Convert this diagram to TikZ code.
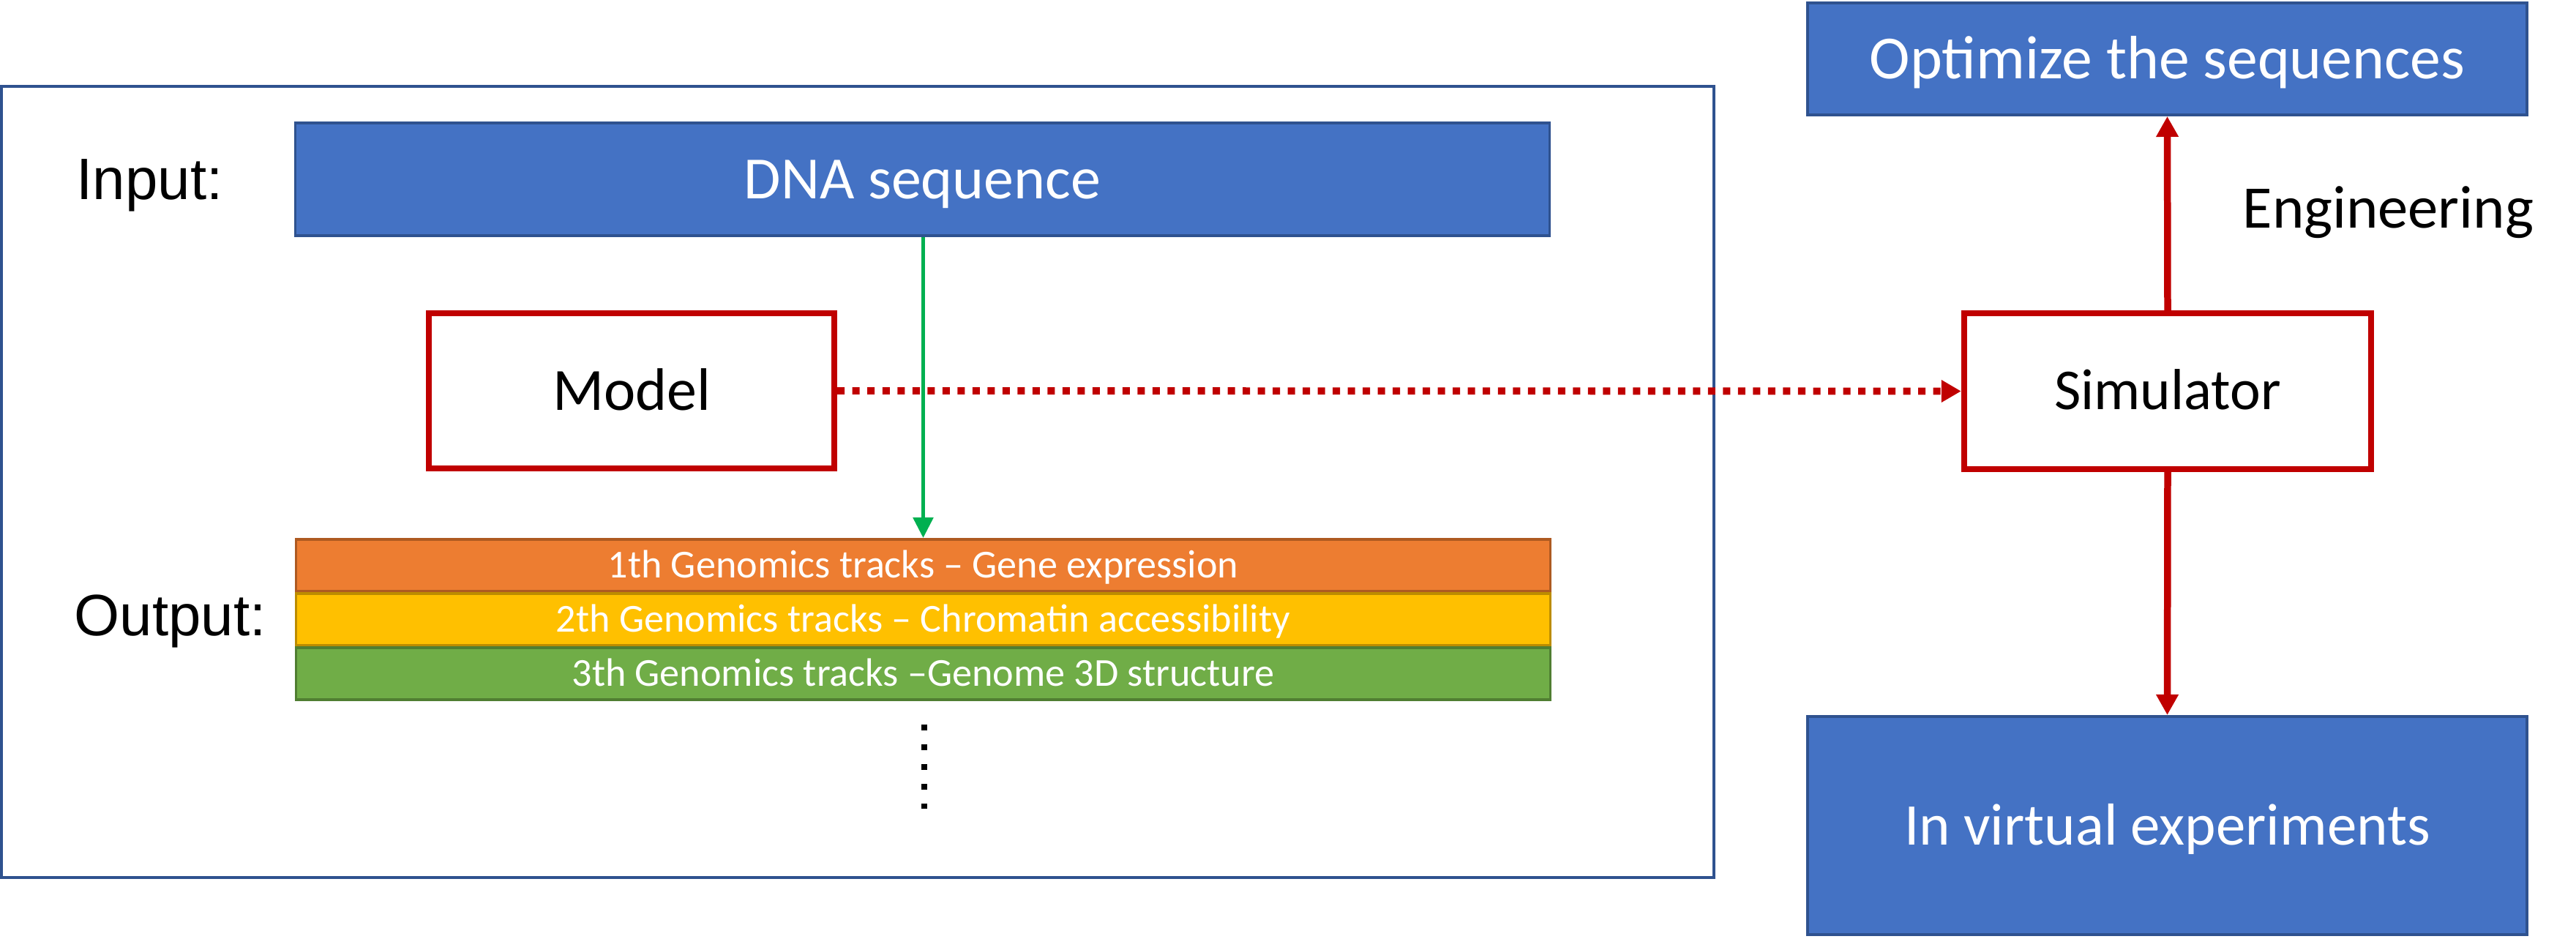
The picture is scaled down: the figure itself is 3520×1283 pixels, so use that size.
\documentclass[tikz,border=0pt]{standalone}
\usepackage{fontspec}
\setmainfont{Carlito}
\newfontfamily\arialfont{Liberation Sans}
\usetikzlibrary{arrows.meta}
\definecolor{obl}{HTML}{4472C4}
\definecolor{oblb}{HTML}{2F528F}
\definecolor{oor}{HTML}{ED7D31}
\definecolor{oorb}{HTML}{AE5A21}
\definecolor{oye}{HTML}{FFC000}
\definecolor{oyeb}{HTML}{BC8C00}
\definecolor{ogr}{HTML}{70AD47}
\definecolor{ogrb}{HTML}{507E32}
\definecolor{ored}{HTML}{C00000}
\definecolor{ogreen}{HTML}{00B050}
\tikzset{
  capc/.style={text height=#1, text depth=0pt},
  bluebox/.style={fill=obl, draw=oblb, line width=1.1pt, text=white, inner sep=0pt},
  redbox/.style={fill=white, draw=ored, line width=2.3pt, inner sep=0pt},
  track/.style={line width=1.1pt, text=white, inner sep=0pt, minimum width=17.13cm, minimum height=0.71cm, font=\fontsize{15.4}{18}\selectfont, capc=9.9pt},
  redarrow/.style={draw=ored, line width=2.7pt, -{Triangle[length=0.28cm,width=0.29cm]}},
  lbl/.style={inner sep=0pt, anchor=base west, font=\arialfont\fontsize{22.7}{27}\selectfont}
}
\begin{document}
\begin{tikzpicture}[x=0.01cm,y=-0.01cm]
\useasboundingbox (0,0) rectangle (3520,1283);
% outer frame
\node[draw=oblb, line width=1.1pt, minimum width=23.38cm, minimum height=10.81cm, inner sep=0pt] (frame) at (1172,658.5) {};
% input
\node[bluebox, minimum width=17.13cm, minimum height=1.54cm, font=\fontsize{23.3}{28}\selectfont, capc=15pt] (dna) at (1260.5,245) {DNA sequence};
\node[lbl] (input) at (104,273) {Input:};
% model
\node[redbox, minimum width=5.54cm, minimum height=2.12cm, font=\fontsize{23.3}{28}\selectfont, capc=15pt] (model) at (863,534) {Model};
% tracks
\node[track, fill=oor, draw=oorb] (t1) at (1261.5,772.5) {1th Genomics tracks – Gene expression};
\node[track, fill=oye, draw=oyeb] (t2) at (1261.5,846.5) {2th Genomics tracks – Chromatin accessibility};
\node[track, fill=ogr, draw=ogrb] (t3) at (1261.5,920.5) {3th Genomics tracks –Genome 3D structure};
\node[lbl] (output) at (101,869) {Output:};
\coordinate (dtop) at (1263,990);
\coordinate (dbot) at (1263,1105);
\draw[line width=2.4pt, dash pattern=on 0.08cm off 0.19cm] (dtop) -- (dbot);
% green arrow
\draw[draw=ogreen, line width=1.6pt, -{Triangle[length=0.28cm,width=0.27cm]}] (dna.south -| t1.north) -- (t1.north);
% simulator side
\node[redbox, minimum width=5.56cm, minimum height=2.13cm, font=\fontsize{22.5}{27}\selectfont, capc=14.5pt] (sim) at (2962,534.5) {Simulator};
\node[bluebox, minimum width=9.83cm, minimum height=1.53cm, font=\fontsize{23.8}{28}\selectfont, capc=15.3pt] (opt) at (2961.5,80.5) {Optimize the sequences};
\node[bluebox, minimum width=9.83cm, minimum height=2.98cm, font=\fontsize{23}{28}\selectfont, capc=14.8pt] (virt) at (2961.5,1128) {In virtual experiments};
\node[inner sep=0pt, anchor=base west, font=\fontsize{23.5}{28}\selectfont] (eng) at (3064,312) {Engineering};
% connectors
\draw[draw=ored, line width=2.8pt, dash pattern=on 0.1cm off 0.105cm, -{Triangle[length=0.27cm,width=0.29cm]}] (model.east) -- (sim.west);
\draw[redarrow] (sim.north) -- (opt.south);
\draw[redarrow] (sim.south) -- (virt.north);
\end{tikzpicture}
\end{document}
